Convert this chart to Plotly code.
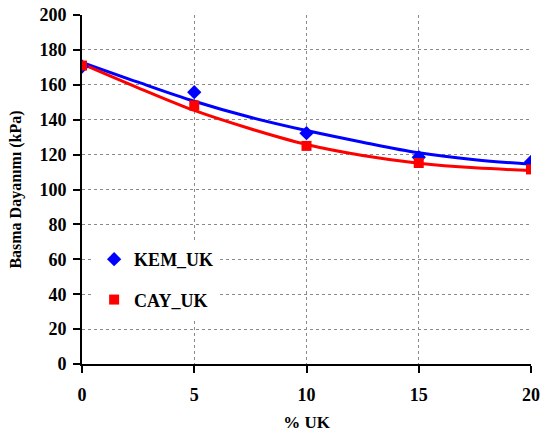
import plotly.graph_objects as go

# Measured data points
x_points = [0, 5, 10, 15, 20]
kem_uk = [170.5, 155.8, 132.3, 118.5, 115.8]
cay_uk = [171.0, 148.2, 125.0, 115.2, 111.5]

# Trend lines
x_trend = [0, 2.5, 5, 7.5, 10, 12.5, 15, 17.5, 20]
kem_trend = [172.9, 161.5, 150.6, 141.4, 133.8, 127.1, 121.0, 117.0, 114.5]
cay_trend = [172.0, 158.3, 145.3, 134.8, 125.8, 119.5, 115.1, 112.4, 110.9]

x_ticks = [0, 5, 10, 15, 20]
y_ticks = [0, 20, 40, 60, 80, 100, 120, 140, 160, 180, 200]

FONT = "Liberation Serif, Times New Roman, serif"
BLUE = "#0000FF"
RED = "#FF0000"

fig = go.Figure()
fig.add_trace(go.Scatter(x=x_trend, y=kem_trend, mode="lines", line=dict(color=BLUE, width=3, shape="spline"),
                         showlegend=False, hoverinfo="skip"))
fig.add_trace(go.Scatter(x=x_trend, y=cay_trend, mode="lines", line=dict(color=RED, width=3, shape="spline"),
                         showlegend=False, hoverinfo="skip"))
fig.add_trace(go.Scatter(x=x_points, y=kem_uk, mode="markers", name="KEM_UK", legendgroup="a",
                         marker=dict(symbol="diamond", size=11, color=BLUE)))
fig.add_trace(go.Scatter(x=x_points, y=cay_uk, mode="markers", name="CAY_UK", legendgroup="b",
                         marker=dict(symbol="square", size=10, color=RED)))

axis_common = dict(
    showline=True, linecolor="black", linewidth=2,
    ticks="outside", ticklen=7, tickwidth=1.5, tickcolor="black",
    showgrid=True, gridcolor="#8a8a8a", griddash="dot", gridwidth=1,
    zeroline=False, automargin=False,
    tickfont=dict(family=FONT, size=18, color="black", weight="bold"),
)

fig.update_xaxes(range=[0, 20], tickvals=x_ticks, ticklabelstandoff=6,
                 title=dict(text="% UK", font=dict(family=FONT, size=17, color="black", weight="bold"), standoff=13),
                 **axis_common)
fig.update_yaxes(range=[0, 200], tickvals=y_ticks, ticklabelstandoff=3,
                 title=dict(text="Basma Dayanımı (kPa)", font=dict(family=FONT, size=16, color="black", weight="bold"), standoff=14),
                 **axis_common)

fig.update_layout(
    width=541, height=434,
    margin=dict(l=82, r=10, t=15, b=70),
    paper_bgcolor="white", plot_bgcolor="white",
    legend=dict(x=0.027, y=0.3525, xanchor="left", yanchor="top", bgcolor="white",
                font=dict(family=FONT, size=18, color="black", weight="bold"),
                traceorder="grouped", tracegroupgap=14),
)

fig.write_html("out.html", config={"displayModeBar": False},
               post_script="document.body.style.margin='0';document.body.style.overflow='hidden';")
